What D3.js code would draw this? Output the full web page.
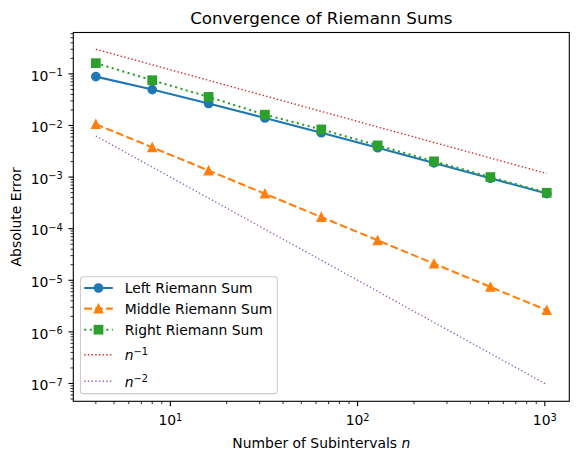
<!DOCTYPE html>

<head>
  <script src="https://d3js.org/d3.v7.min.js"></script>
  <style>
    body { margin: 0; background: #fff; }
    text { font-family: "DejaVu Sans", sans-serif; fill: #000; }
  </style>
</head>

<body>

  <script type="text/javascript">
    // number of subintervals and absolute errors
    var nValues = [4, 8, 16, 32, 64, 128, 256, 512, 1024];
    var leftErr = [0.0885, 0.0496, 0.0267, 0.0140, 0.00724, 0.00370, 0.00188, 0.000951, 0.000479];
    var middleErr = [0.0106, 0.00377, 0.00134, 0.000475, 0.000168, 5.95e-5, 2.10e-5, 7.43e-6, 2.63e-6];
    var rightErr = [0.1615, 0.0754, 0.0358, 0.0162, 0.00839, 0.00411, 0.00202, 0.00100, 0.000497];
    var refN1 = [0.3, 0.15, 0.075, 0.0375, 0.01875, 0.009375, 0.0046875, 0.00234375, 0.001171875];
    var refN2 = [6.25e-3, 1.5625e-3, 3.90625e-4, 9.765625e-5, 2.44140625e-5, 6.1035e-6, 1.5259e-6, 3.8147e-7, 9.5367e-8];
    var xTickExps = [1, 2, 3];
    var yTickExps = [-1, -2, -3, -4, -5, -6, -7];

    var w = 578;
    var h = 460;
    var axL = 73.3, axR = 569.3, axT = 32.5, axB = 401.3;

    var svg = d3.select("body")
      .append("svg")
      .attr("width", w)
      .attr("height", h);

    // matplotlib style 5% margins in log space
    function logPad(ext) {
      var a = Math.log10(ext[0]), b = Math.log10(ext[1]);
      var p = (b - a) * 0.05;
      return [Math.pow(10, a - p), Math.pow(10, b + p)];
    }

    var allY = leftErr.concat(middleErr, rightErr, refN1, refN2);

    var xScale = d3.scaleLog()
                   .domain(logPad(d3.extent(nValues)))
                   .range([axL, axR]);

    var yScale = d3.scaleLog()
                   .domain(logPad(d3.extent(allY)))
                   .range([axB, axT]);

    var series = [
      {name: "Left Riemann Sum", vals: leftErr, color: "#1f77b4", width: 2.08, dash: null, marker: "circle"},
      {name: "Middle Riemann Sum", vals: middleErr, color: "#ff7f0e", width: 2.08, dash: "7.7,3.3", marker: "triangle"},
      {name: "Right Riemann Sum", vals: rightErr, color: "#2ca02c", width: 2.08, dash: "2.08,3.44", marker: "square"},
      {name: "n1", vals: refN1, color: "#d62728", width: 1.39, dash: "1.39,2.29", marker: null},
      {name: "n2", vals: refN2, color: "#9467bd", width: 1.39, dash: "1.39,2.29", marker: null}
    ];

    // ticks
    var xd = xScale.domain(), yd = yScale.domain();
    var xMinor = [], yMinor = [];
    for (var e = Math.floor(Math.log10(xd[0])); e <= Math.ceil(Math.log10(xd[1])); e++) {
      for (var k = 2; k < 10; k++) {
        var v = k * Math.pow(10, e);
        if (v >= xd[0] && v <= xd[1]) xMinor.push(v);
      }
    }
    for (var e2 = Math.floor(Math.log10(yd[0])); e2 <= Math.ceil(Math.log10(yd[1])); e2++) {
      for (var k2 = 2; k2 < 10; k2++) {
        var v2 = k2 * Math.pow(10, e2);
        if (v2 >= yd[0] && v2 <= yd[1]) yMinor.push(v2);
      }
    }

    var ticks = svg.append("g").attr("stroke", "#000");
    ticks.selectAll("line.xm")
      .data(xMinor).enter().append("line")
      .attr("x1", function(d){ return xScale(d); })
      .attr("x2", function(d){ return xScale(d); })
      .attr("y1", axB).attr("y2", axB + 2.78)
      .attr("stroke-width", 0.83);
    ticks.selectAll("line.xM")
      .data(xTickExps).enter().append("line")
      .attr("x1", function(d){ return xScale(Math.pow(10, d)); })
      .attr("x2", function(d){ return xScale(Math.pow(10, d)); })
      .attr("y1", axB).attr("y2", axB + 4.86)
      .attr("stroke-width", 1.1);
    ticks.selectAll("line.ym")
      .data(yMinor).enter().append("line")
      .attr("y1", function(d){ return yScale(d); })
      .attr("y2", function(d){ return yScale(d); })
      .attr("x1", axL).attr("x2", axL - 2.78)
      .attr("stroke-width", 0.83);
    ticks.selectAll("line.yM")
      .data(yTickExps).enter().append("line")
      .attr("y1", function(d){ return yScale(Math.pow(10, d)); })
      .attr("y2", function(d){ return yScale(Math.pow(10, d)); })
      .attr("x1", axL).attr("x2", axL - 4.86)
      .attr("stroke-width", 1.1);

    function powLabel(sel, exp) {
      sel.append("tspan").text("10");
      sel.append("tspan")
        .attr("dy", "-0.46em")
        .attr("font-size", "9.8px")
        .text(String(exp).replace("-", "\u2212"));
    }

    svg.selectAll("text.xt")
      .data(xTickExps).enter().append("text")
      .attr("x", function(d){ return xScale(Math.pow(10, d)); })
      .attr("y", 425.2)
      .attr("text-anchor", "middle")
      .attr("font-size", "13.9px")
      .each(function(d){ powLabel(d3.select(this), d); });

    svg.selectAll("text.yt")
      .data(yTickExps).enter().append("text")
      .attr("x", axL - 10.5)
      .attr("y", function(d){ return yScale(Math.pow(10, d)) + 6.8; })
      .attr("text-anchor", "end")
      .attr("font-size", "13.9px")
      .each(function(d){ powLabel(d3.select(this), d); });

    // clip the curves to the axes box
    svg.append("clipPath").attr("id", "clip")
      .append("rect")
      .attr("x", axL).attr("y", axT)
      .attr("width", axR - axL).attr("height", axB - axT);

    var plot = svg.append("g").attr("clip-path", "url(#clip)");

    var line = d3.line()
      .x(function(d, i){ return xScale(nValues[i]); })
      .y(function(d){ return yScale(d); });

    function drawMarker(g, type, cx, cy, color) {
      var s = 8.33;
      if (type == "circle") {
        g.append("circle").attr("cx", cx).attr("cy", cy).attr("r", s / 2)
          .attr("fill", color).attr("stroke", color).attr("stroke-width", 1.39);
      } else if (type == "square") {
        g.append("rect").attr("x", cx - s / 2).attr("y", cy - s / 2)
          .attr("width", s).attr("height", s)
          .attr("fill", color).attr("stroke", color).attr("stroke-width", 1.39);
      } else if (type == "triangle") {
        var r = s / 2;
        g.append("path")
          .attr("d", "M" + cx + "," + (cy - r) + "L" + (cx - r) + "," + (cy + r) + "L" + (cx + r) + "," + (cy + r) + "Z")
          .attr("fill", color).attr("stroke", color).attr("stroke-width", 1.39)
          .attr("stroke-linejoin", "miter");
      }
    }

    series.forEach(function(s) {
      var g = plot.append("g");
      g.append("path")
        .datum(s.vals)
        .attr("d", line)
        .attr("fill", "none")
        .attr("stroke", s.color)
        .attr("stroke-width", s.width)
        .attr("stroke-dasharray", s.dash);
      if (s.marker) {
        s.vals.forEach(function(v, i) {
          drawMarker(g, s.marker, xScale(nValues[i]), yScale(v), s.color);
        });
      }
    });

    // spines
    svg.append("rect")
      .attr("x", axL).attr("y", axT)
      .attr("width", axR - axL).attr("height", axB - axT)
      .attr("fill", "none").attr("stroke", "#000").attr("stroke-width", 1.1);

    // title and axis labels
    svg.append("text")
      .attr("x", (axL + axR) / 2).attr("y", 23.5)
      .attr("text-anchor", "middle")
      .attr("font-size", "16.7px")
      .text("Convergence of Riemann Sums");

    var xl = svg.append("text")
      .attr("x", (axL + axR) / 2).attr("y", 447.5)
      .attr("text-anchor", "middle")
      .attr("font-size", "13.9px");
    xl.append("tspan").text("Number of Subintervals ");
    xl.append("tspan").attr("font-style", "italic").text("n");

    svg.append("text")
      .attr("transform", "translate(21," + ((axT + axB) / 2) + ") rotate(-90)")
      .attr("text-anchor", "middle")
      .attr("font-size", "13.9px")
      .text("Absolute Error");

    // legend
    var leg = svg.append("g");
    leg.append("rect")
      .attr("x", 80.5).attr("y", 276.8)
      .attr("width", 196.8).attr("height", 116.8)
      .attr("rx", 2.8)
      .attr("fill", "#fff").attr("fill-opacity", 0.8)
      .attr("stroke", "#cccccc").attr("stroke-width", 1.1);

    var legRows = [288, 308.6, 329.7, 354.7, 381.3];
    series.forEach(function(s, i) {
      var y = legRows[i];
      var g = leg.append("g");
      g.append("line")
        .attr("x1", 84.2).attr("x2", 112.8)
        .attr("y1", y).attr("y2", y)
        .attr("stroke", s.color)
        .attr("stroke-width", s.width)
        .attr("stroke-dasharray", s.dash);
      if (s.marker) drawMarker(g, s.marker, 98.5, y, s.color);
      var t = g.append("text")
        .attr("x", 124.7)
        .attr("y", y + 5.2)
        .attr("font-size", "13.9px");
      if (s.name == "n1" || s.name == "n2") {
        t.append("tspan").attr("font-style", "italic").text("n");
        t.append("tspan")
          .attr("dy", "-0.5em")
          .attr("font-size", "9.8px")
          .text("\u2212" + s.name.slice(1));
      } else {
        t.text(s.name);
      }
    });

  </script>


</body>
